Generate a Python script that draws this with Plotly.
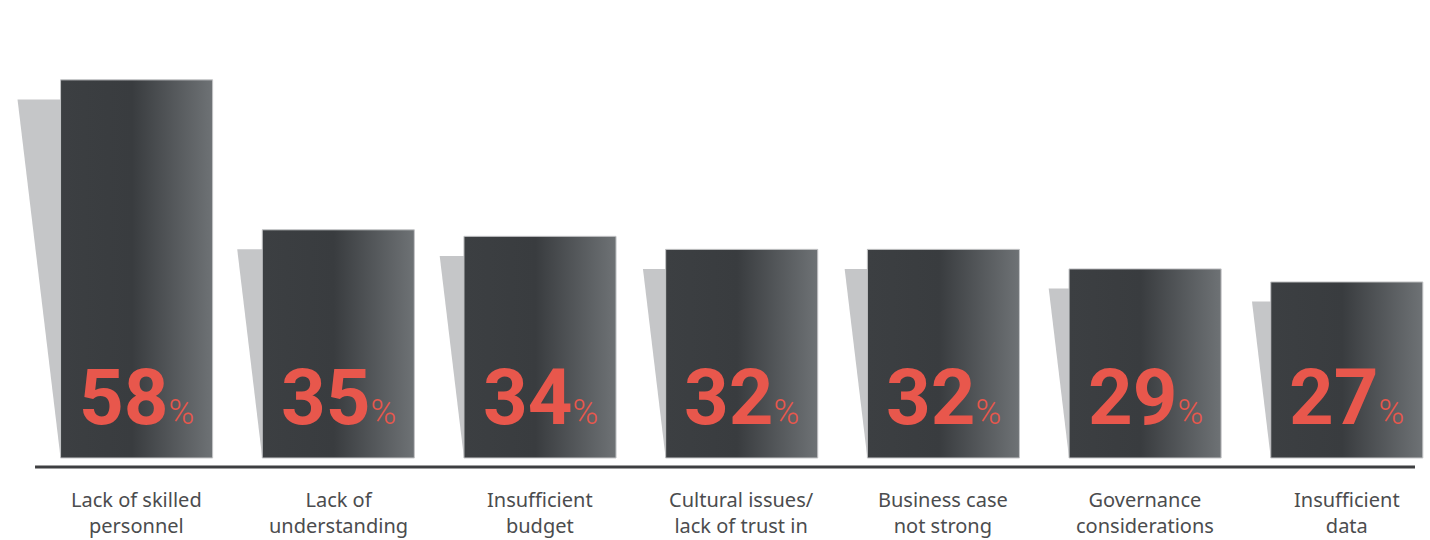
import plotly.graph_objects as go

categories = ["Lack of skilled<br>personnel", "Lack of<br>understanding", "Insufficient<br>budget",
              "Cultural issues/<br>lack of trust in", "Business case<br>not strong",
              "Governance<br>considerations", "Insufficient<br>data"]
values = [58, 35, 34, 32, 32, 29, 27]

BAR_W = 0.754
SHADOW_DROP = 3.0
RED = "#e8574c"

fig = go.Figure()

# shadows
for i, v in enumerate(values):
    xl = i - BAR_W / 2
    top = v - SHADOW_DROP
    dx = 0.00388 * top
    fig.add_trace(go.Scatter(
        x=[xl - dx, xl + 0.05, xl + 0.05, xl, xl - dx], y=[top, top, 0, 0, top],
        mode="lines", fill="toself", fillcolor="#c5c6c8",
        line=dict(width=0, color="#c5c6c8"), hoverinfo="skip", showlegend=False))

# bars with horizontal gradient
for i, v in enumerate(values):
    xl, xr = i - BAR_W / 2, i + BAR_W / 2
    fig.add_trace(go.Scatter(
        x=[xl, xr, xr, xl, xl], y=[0, 0, v, v, 0],
        mode="lines", fill="toself",
        fillgradient=dict(type="horizontal",
                          colorscale=[[0, "#3c3f42"], [0.47, "#393c3f"], [1, "#6e7275"]]),
        line=dict(width=1, color="#c4c5c7"), hoverinfo="skip", showlegend=False))

# value labels
for i, v in enumerate(values):
    fig.add_annotation(
        x=i, y=9.3, xref="x", yref="y", showarrow=False, xanchor="center", yanchor="middle",
        text=f"<span style='font-size:78px;font-weight:700'>{v}</span><span style='font-size:35px;font-weight:300'>%</span>",
        font=dict(family="Roboto", color=RED, size=78))

# category labels
for i, c in enumerate(categories):
    fig.add_annotation(
        x=i, y=-3.95, xref="x", yref="y", showarrow=False, xanchor="center", yanchor="top",
        text=c, font=dict(family="Noto Sans", color="#4b4c4e", size=20))

# baseline
fig.add_shape(type="line", xref="paper", yref="y", x0=0.0245, x1=0.9895, y0=-1.38, y1=-1.38,
              line=dict(color="#3e3f41", width=3))

# x mapping: centre of category i at 136.6 + 201.7*i px
fig.update_layout(
    width=1430, height=540, margin=dict(l=0, r=0, t=0, b=0),
    paper_bgcolor="white", plot_bgcolor="white",
    xaxis=dict(range=[-136.6 / 201.7, (1430 - 136.6) / 201.7], visible=False, fixedrange=True),
    yaxis=dict(range=[-12.58, 70.25], visible=False, fixedrange=True),
)

fig.write_html("out.html")
